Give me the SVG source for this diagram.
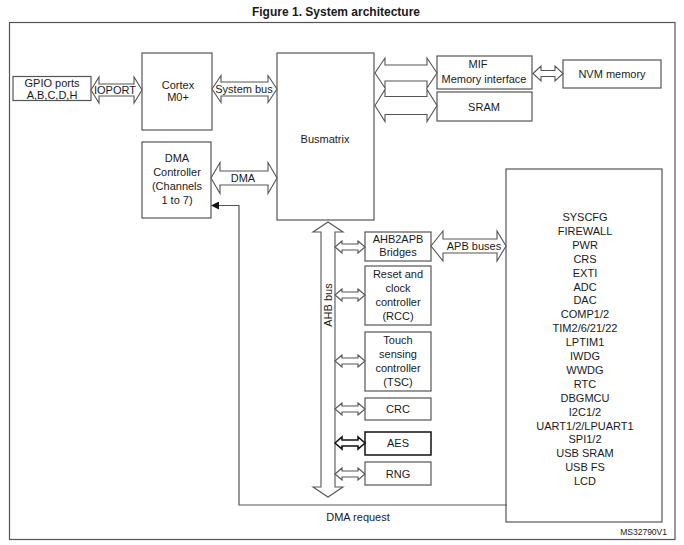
<svg xmlns="http://www.w3.org/2000/svg" width="684" height="545" viewBox="0 0 684 545">
<style>
.bx{fill:#fff;stroke:#555;stroke-width:1.2}
.ar{fill:#fff;stroke:#555;stroke-width:1.1}
.ln{fill:none;stroke:#555;stroke-width:1.2}
text{font-family:"Liberation Sans",Arial,sans-serif;font-size:11px;fill:#1a1a1a;text-anchor:middle}
.ttl{font-size:12px;font-weight:bold}
.sm{font-size:8.5px;text-anchor:end}
</style>
<defs>
<path id="sa" d="M335,0 L342,-6 L342,-3 L358,-3 L358,-6 L365,0 L358,6 L358,3 L342,3 L342,6 Z"/>
<marker id="ah" markerWidth="8" markerHeight="8" refX="7" refY="4" orient="auto" markerUnits="userSpaceOnUse">
<path d="M0,0 L8,4 L0,8 Z" fill="#111"/>
</marker>
</defs>
<rect width="684" height="545" fill="#fff"/>
<text class="ttl" x="336" y="16">Figure 1. System architecture</text>
<rect class="ln" x="9.5" y="22.5" width="665.5" height="517"/>

<g id="gpio"><rect class="bx" x="13" y="76.5" width="78" height="24"/>
<text x="52" y="87">GPIO ports</text><text x="52" y="98.5">A,B,C,D,H</text></g>

<g id="cortex"><rect class="bx" x="142" y="53" width="70" height="77"/>
<text x="178" y="89">Cortex</text><text x="178" y="101">M0+</text></g>

<g id="busmatrix"><rect class="bx" x="277" y="53" width="97" height="167"/>
<text x="325" y="143">Busmatrix</text></g>

<g id="mif"><rect class="bx" x="437" y="56" width="95" height="33"/>
<text x="478" y="68">MIF</text><text x="484" y="83">Memory interface</text></g>

<g id="sram"><rect class="bx" x="437" y="92" width="95" height="29"/>
<text x="484" y="111">SRAM</text></g>

<g id="nvm"><rect class="bx" x="563" y="60" width="98" height="28"/>
<text x="612" y="78">NVM memory</text></g>

<g id="dma"><rect class="bx" x="142" y="142" width="69" height="76"/>
<text x="177" y="162">DMA</text><text x="177" y="176">Controller</text><text x="177" y="190">(Channels</text><text x="177" y="204">1 to 7)</text></g>

<g id="ahb2apb"><rect class="bx" x="365" y="232" width="66" height="29"/>
<text x="398" y="243">AHB2APB</text><text x="398" y="256">Bridges</text></g>

<g id="rcc"><rect class="bx" x="365" y="266" width="66" height="59"/>
<text x="398" y="278">Reset and</text><text x="398" y="292">clock</text><text x="398" y="306">controller</text><text x="398" y="320">(RCC)</text></g>

<g id="tsc"><rect class="bx" x="365" y="332" width="66" height="59"/>
<text x="398" y="344">Touch</text><text x="398" y="358">sensing</text><text x="398" y="372">controller</text><text x="398" y="386">(TSC)</text></g>

<g id="crc"><rect class="bx" x="365" y="398" width="66" height="22"/>
<text x="398" y="413">CRC</text></g>

<g id="aes"><rect x="365" y="432" width="66" height="23" fill="#fff" stroke="#111" stroke-width="1.5"/>
<text x="398" y="447">AES</text></g>

<g id="rng"><rect class="bx" x="365" y="462" width="66" height="23"/>
<text x="398" y="478">RNG</text></g>

<g id="apb"><rect class="bx" x="506" y="169" width="156" height="353"/>
<text x="585" y="221">SYSCFG</text>
<text x="585" y="234.9">FIREWALL</text>
<text x="585" y="248.8">PWR</text>
<text x="585" y="262.7">CRS</text>
<text x="585" y="276.6">EXTI</text>
<text x="585" y="290.5">ADC</text>
<text x="585" y="304.4">DAC</text>
<text x="585" y="318.3">COMP1/2</text>
<text x="585" y="332.2">TIM2/6/21/22</text>
<text x="585" y="346.1">LPTIM1</text>
<text x="585" y="360">IWDG</text>
<text x="585" y="373.9">WWDG</text>
<text x="585" y="387.8">RTC</text>
<text x="585" y="401.7">DBGMCU</text>
<text x="585" y="415.6">I2C1/2</text>
<text x="585" y="429.5">UART1/2/LPUART1</text>
<text x="585" y="443.4">SPI1/2</text>
<text x="585" y="457.3">USB SRAM</text>
<text x="585" y="471.2">USB FS</text>
<text x="585" y="485.1">LCD</text>
</g>

<g id="connectors">
<polygon class="ar" points="91,90 99,77 99,84 134,84 134,77 142,90 134,103 134,96 99,96 99,103"/>
<polygon class="ar" points="212,89 221,75.5 221,82 268,82 268,75.5 277,89 268,102.5 268,96 221,96 221,102.5"/>
<polygon class="ar" points="375,73 385,58 385,65 427,65 427,58 437,73 427,88 427,81 385,81 385,88"/>
<polygon class="ar" points="375,105.5 385,89.5 385,96.5 427,96.5 427,89.5 437,105.5 427,121.5 427,114.5 385,114.5 385,121.5"/>
<polygon class="ar" points="533,73.5 541,66 541,70.5 555,70.5 555,66 563,73.5 555,81 555,76.5 541,76.5 541,81"/>
<polygon class="ar" points="211,178 220,162.5 220,171 268,171 268,162.5 277,178 268,193.5 268,185 220,185 220,193.5"/>
<polygon class="ar" points="431,246 443,231 443,239 497,239 497,231 506,246 497,261 497,253 443,253 443,261"/>
<polygon class="ar" points="328,222 343,232 335,232 335,487 343,487 328,497 313,487 321,487 321,232 313,232"/>
<use href="#sa" class="ar" y="247"/>
<use href="#sa" class="ar" y="295"/>
<use href="#sa" class="ar" y="361"/>
<use href="#sa" class="ar" y="409"/>
<use href="#sa" y="443" style="fill:#fff;stroke:#111;stroke-width:1.5"/>
<use href="#sa" class="ar" y="474"/>
<polyline class="ln" points="507,505 239,505 239,205.5 212,205.5" marker-end="url(#ah)"/>
<text x="115" y="94">IOPORT</text>
<text x="244" y="93">System bus</text>
<text x="243" y="182">DMA</text>
<text x="474" y="250">APB buses</text>
<text x="332" y="305" transform="rotate(-90 332 305)">AHB bus</text>
<text x="358" y="521">DMA request</text>
</g>

<text class="sm" x="667" y="535">MS32790V1</text>
</svg>
